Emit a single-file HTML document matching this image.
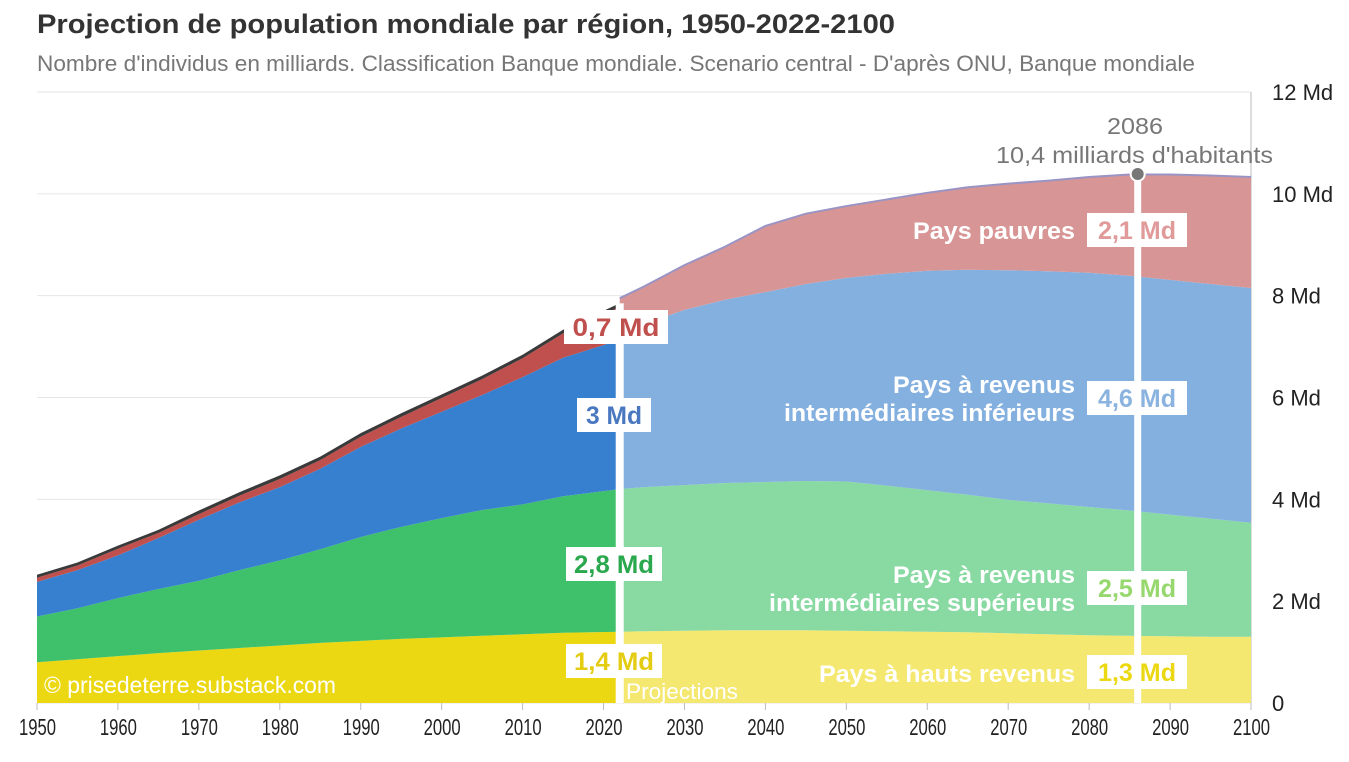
<!DOCTYPE html>
<html><head><meta charset="utf-8">
<style>
body{margin:0;width:1349px;height:757px;background:#fff;overflow:hidden;font-family:"Liberation Sans",sans-serif}
svg text{font-family:"Liberation Sans",sans-serif}
</style></head><body>
<svg id="c" width="1349" height="757">
<text x="37" y="33" font-size="27" font-weight="bold" fill="#333" textLength="858" lengthAdjust="spacingAndGlyphs">Projection de population mondiale par région, 1950-2022-2100</text>
<text x="37" y="71" font-size="22" fill="#777" textLength="1158" lengthAdjust="spacingAndGlyphs">Nombre d'individus en milliards. Classification Banque mondiale. Scenario central - D'après ONU, Banque mondiale</text>
<g id="grid"></g><g id="areas"></g><g id="overlay"></g>
</svg>
<script>
const histYears=[1950,1955,1960,1965,1970,1975,1980,1985,1990,1995,2000,2005,2010,2015,2022];
const histHigh=[0.80,0.86,0.92,0.98,1.03,1.08,1.13,1.18,1.22,1.26,1.29,1.32,1.35,1.38,1.40];
const histUpper=[0.90,1.00,1.14,1.26,1.37,1.53,1.67,1.84,2.04,2.20,2.34,2.47,2.55,2.68,2.80];
const histLower=[0.68,0.75,0.84,1.00,1.20,1.33,1.44,1.58,1.77,1.93,2.09,2.26,2.50,2.72,2.93];
const histLow=[0.08,0.09,0.13,0.10,0.11,0.13,0.16,0.17,0.20,0.23,0.27,0.31,0.37,0.48,0.65];
const histOther=[0.06,0.06,0.06,0.06,0.07,0.07,0.07,0.07,0.07,0.07,0.07,0.07,0.07,0.07,0.07];
const projYears=[2022,2025,2030,2035,2040,2045,2050,2055,2060,2065,2070,2075,2080,2085,2090,2095,2100];
const projHigh=[1.40,1.41,1.42,1.43,1.43,1.43,1.42,1.41,1.40,1.39,1.37,1.35,1.33,1.32,1.31,1.30,1.30];
const projUpper=[2.80,2.83,2.86,2.89,2.91,2.93,2.93,2.86,2.78,2.70,2.62,2.57,2.52,2.46,2.39,2.32,2.24];
const projLower=[2.93,3.20,3.44,3.60,3.73,3.87,4.00,4.16,4.31,4.42,4.51,4.56,4.60,4.61,4.61,4.61,4.61];
const projLow=[0.82,0.74,0.88,1.04,1.30,1.38,1.41,1.46,1.53,1.62,1.70,1.78,1.88,1.99,2.07,2.13,2.18];
const yTicks=[0,2,4,6,8,10,12];
const yTickLabels=["0","2 Md","4 Md","6 Md","8 Md","10 Md","12 Md"];
const xTicks=[1950,1960,1970,1980,1990,2000,2010,2020,2030,2040,2050,2060,2070,2080,2090,2100];
const NS="http://www.w3.org/2000/svg";
const X=y=>37+(y-1950)*(1251-37)/150, Y=v=>703-v*(611/12);
function el(t,a,p){const e=document.createElementNS(NS,t);for(const k in a)e.setAttribute(k,a[k]);p.appendChild(e);return e;}
const grid=document.getElementById('grid'),areas=document.getElementById('areas'),ov=document.getElementById('overlay');
yTicks.forEach((v,i)=>{
 const l=el('line',{x1:37,x2:1251,y1:Y(v),y2:Y(v),stroke:'#e6e6e6'},grid);
 
 
 const t=el('text',{x:1272,y:Y(v)+8,'font-size':22,fill:'#222'},grid);t.textContent=yTickLabels[i];
 
 
});
el('line',{x1:1251,x2:1251,y1:92,y2:703,stroke:'#bbb'},grid);
xTicks.forEach(y=>{
 el('line',{x1:X(y),x2:X(y),y1:703,y2:710,stroke:'#bbb'},grid);
 const t=el('text',{x:X(y)-18,y:735,'font-size':23,fill:'#222',textLength:37,lengthAdjust:'spacingAndGlyphs'},grid);t.textContent=y;
 
 
});
function stack(years,series,colors,names){
 let base=years.map(()=>0);
 series.forEach((s,i)=>{
  const top=base.map((b,j)=>b+s[j]);
  let d='M'+years.map((y,j)=>X(y)+','+Y(top[j])).join('L');
  d+='L'+years.map((y,j)=>X(y)+','+Y(base[j])).reverse().join('L')+'Z';
  const p=el('path',{d:d,fill:colors[i]},areas);
  
  
  base=top;
 });
 return base;
}
const ht=stack(histYears,[histHigh,histUpper,histLower,histLow,histOther],['#ecd812','#3ec16a','#377fcf','#c0504d','#3a3a3a'],['area-high-income-hist','area-upper-middle-hist','area-lower-middle-hist','area-low-income-hist','area-other-hist']);
const pt=stack(projYears,[projHigh,projUpper,projLower,projLow],['#f4e871','#88d9a2','#84b0e0','#d89595'],['area-high-income-proj','area-upper-middle-proj','area-lower-middle-proj','area-low-income-proj']);
el('path',{d:'M'+projYears.map((y,j)=>X(y)+','+Y(pt[j])).join('L'),fill:'none',stroke:'#9a94c4','stroke-width':2},areas);
el('rect',{x:X(2022)-4,y:Y(ht[ht.length-1]),width:8,height:703-Y(ht[ht.length-1]),fill:'#fff'},ov);
el('rect',{x:X(2086)-3.5,y:174,width:7,height:529,fill:'#fff'},ov);
el('circle',{cx:X(2086),cy:174,r:7,fill:'#777',stroke:'#fff','stroke-width':2},ov);
function box(x0,x1,cy,txt,col,tw){
 el('rect',{x:x0,y:cy-17,width:x1-x0,height:34,fill:'#fff'},ov);
 const t=el('text',{x:(x0+x1)/2-tw/2,y:cy+9,'font-size':25,'font-weight':'bold',fill:col,textLength:tw,lengthAdjust:'spacingAndGlyphs'},ov);t.textContent=txt;
 
 
}
box(564,668,327,'0,7 Md','#c0504d',87);
box(577,651,415,'3 Md','#4a78c0',56);
box(566,662,564,'2,8 Md','#2aa84e',80);
box(566,662,661,'1,4 Md','#e3cc12',80);
box(1087,1187,230,'2,1 Md','#e09a9a',78);
box(1087,1187,398,'4,6 Md','#8ab3e0',78);
box(1087,1187,588,'2,5 Md','#97d86e',78);
box(1087,1187,672,'1,3 Md','#ecd812',78);
function lbl(xEnd,y,txt,size,w,tw,name,fill){const t=el('text',{x:xEnd-tw,y:y,'font-size':size,'font-weight':w,fill:fill||'#fff',textLength:tw,lengthAdjust:'spacingAndGlyphs'},ov);t.textContent=txt;
 
 }
lbl(1075,239,'Pays pauvres',24,'bold',162,'label-low-income');
lbl(1075,393,'Pays à revenus',24,'bold',182,'label-lower-middle');
lbl(1075,421,'intermédiaires inférieurs',24,'bold',291,'label-lower-middle');
lbl(1075,583,'Pays à revenus',24,'bold',182,'label-upper-middle');
lbl(1075,611,'intermédiaires supérieurs',24,'bold',306,'label-upper-middle');
lbl(1075,682,'Pays à hauts revenus',24,'bold',256,'label-high-income');
lbl(336,693,'© prisedeterre.substack.com',23,'normal',292,'credit');
lbl(738,699,'Projections',22,'normal',112,'projections-label');
lbl(1163,134,'2086',23,'normal',56,'peak-year','#777');
lbl(1273,163,"10,4 milliards d'habitants",23,'normal',277,'peak-label','#777');
</script>
</body></html>
